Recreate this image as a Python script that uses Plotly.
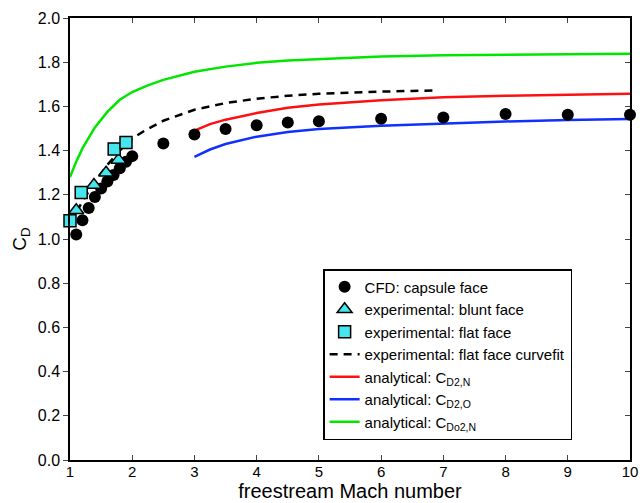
import plotly.graph_objects as go

# CFD: capsule face
cfd_mach = [1.1, 1.2, 1.3, 1.4, 1.5, 1.6, 1.7, 1.8, 1.9, 2.0, 2.5, 3.0, 3.5, 4.0, 4.5, 5.0, 6.0, 7.0, 8.0, 9.0, 10.0]
cfd_cd = [1.02, 1.085, 1.14, 1.19, 1.228, 1.26, 1.29, 1.32, 1.35, 1.375, 1.432, 1.473, 1.498, 1.515, 1.527, 1.533, 1.544, 1.55, 1.566, 1.562, 1.562]

# experimental: blunt face
blunt_mach = [1.1, 1.385, 1.58, 1.78]
blunt_cd = [1.13, 1.244, 1.30, 1.358]

# experimental: flat face
flat_mach = [1.0, 1.18, 1.71, 1.9]
flat_cd = [1.083, 1.21, 1.407, 1.437]

# experimental: flat face curvefit
fit_mach = [1.0, 1.2, 1.4, 1.6, 1.8, 2.0, 2.2, 2.5, 3.0, 3.5, 4.0, 4.5, 5.0, 5.5, 6.0, 6.5, 6.9]
fit_cd = [1.07, 1.17, 1.26, 1.335, 1.40, 1.455, 1.49, 1.535, 1.585, 1.615, 1.635, 1.648, 1.657, 1.663, 1.667, 1.670, 1.672]

# analytical: C_D2,N
red_mach = [3.0, 3.25, 3.5, 4.0, 4.5, 5.0, 6.0, 7.0, 8.0, 9.0, 10.0]
red_cd = [1.49, 1.52, 1.54, 1.57, 1.594, 1.609, 1.628, 1.641, 1.648, 1.653, 1.657]

# analytical: C_D2,O
blue_mach = [3.0, 3.25, 3.5, 4.0, 4.5, 5.0, 6.0, 7.0, 8.0, 9.0, 10.0]
blue_cd = [1.372, 1.405, 1.43, 1.463, 1.484, 1.498, 1.513, 1.524, 1.532, 1.538, 1.543]

# analytical: C_Do2,N
green_mach = [1.0, 1.1, 1.2, 1.3, 1.4, 1.6, 1.8, 2.0, 2.25, 2.5, 3.0, 3.5, 4.0, 4.5, 5.0, 6.0, 7.0, 8.0, 9.0, 10.0]
green_cd = [1.28, 1.35, 1.41, 1.46, 1.505, 1.575, 1.63, 1.665, 1.695, 1.72, 1.757, 1.78, 1.797, 1.808, 1.815, 1.826, 1.831, 1.834, 1.836, 1.838]

CYAN = "#45E6EE"
FONT = "Liberation Sans, Arial, Helvetica, sans-serif"

fig = go.Figure()
fig.add_trace(go.Scatter(x=red_mach, y=red_cd, mode="lines", line=dict(color="#FF1010", width=2.5),
                         name="analytical: C<sub>D2,N</sub>", legendrank=5))
fig.add_trace(go.Scatter(x=blue_mach, y=blue_cd, mode="lines", line=dict(color="#1030FF", width=2.5),
                         name="analytical: C<sub>D2,O</sub>", legendrank=6))
fig.add_trace(go.Scatter(x=green_mach, y=green_cd, mode="lines", line=dict(color="#00E600", width=2.5),
                         name="analytical: C<sub>Do2,N</sub>", legendrank=7))
fig.add_trace(go.Scatter(x=fit_mach, y=fit_cd, mode="lines", line=dict(color="black", width=2.5, dash="8px,6px"),
                         name="experimental: flat face curvefit", legendrank=4))
fig.add_trace(go.Scatter(x=cfd_mach, y=cfd_cd, mode="markers", cliponaxis=False,
                         marker=dict(symbol="circle", size=12, color="black"),
                         name="CFD: capsule face", legendrank=1))
fig.add_trace(go.Scatter(x=blunt_mach, y=blunt_cd, mode="markers", cliponaxis=False,
                         marker=dict(symbol="triangle-up", size=13, color=CYAN, line=dict(color="black", width=1.5)),
                         name="experimental: blunt face", legendrank=2))
fig.add_trace(go.Scatter(x=flat_mach, y=flat_cd, mode="markers", cliponaxis=False,
                         marker=dict(symbol="square", size=12, color=CYAN, line=dict(color="black", width=1.5)),
                         name="experimental: flat face", legendrank=3))
# helper trace for right-side axis ticks
fig.add_trace(go.Scatter(x=[None], y=[None], yaxis="y2", showlegend=False, hoverinfo="skip"))

fig.update_layout(
    width=642, height=503,
    margin=dict(l=70, r=12, t=18, b=43),
    paper_bgcolor="white", plot_bgcolor="white",
    font=dict(family=FONT, color="black", size=16),
    showlegend=True,
    legend=dict(x=0.452, y=0.432, xanchor="left", yanchor="top",
                bgcolor="white", bordercolor="black", borderwidth=1.5,
                font=dict(size=15, family=FONT), itemwidth=30,
                traceorder="normal"),
    xaxis=dict(range=[1, 10], dtick=1, tick0=1, ticks="inside", ticklen=5, tickwidth=1,
               showline=True, linecolor="black", linewidth=1.5, mirror="ticks",
               showgrid=False, zeroline=False, automargin=False, ticklabelstandoff=-3,
               title=dict(text="freestream Mach number", font=dict(size=20), standoff=1),
               tickfont=dict(size=15)),
    yaxis=dict(range=[0, 2], dtick=0.2, tick0=0, tickformat=".1f", ticks="outside", ticklen=5, tickwidth=1,
               showline=True, linecolor="black", linewidth=1.5, mirror=True,
               showgrid=False, zeroline=False, automargin=False,
               title=dict(text="C<sub>D</sub>", font=dict(size=19), standoff=6),
               tickfont=dict(size=16)),
    yaxis2=dict(range=[0, 2], dtick=0.2, tick0=0, overlaying="y", side="right",
                ticks="inside", ticklen=5, tickwidth=1, showticklabels=False,
                showline=False, showgrid=False, zeroline=False),
)

fig.write_html("out.html")
